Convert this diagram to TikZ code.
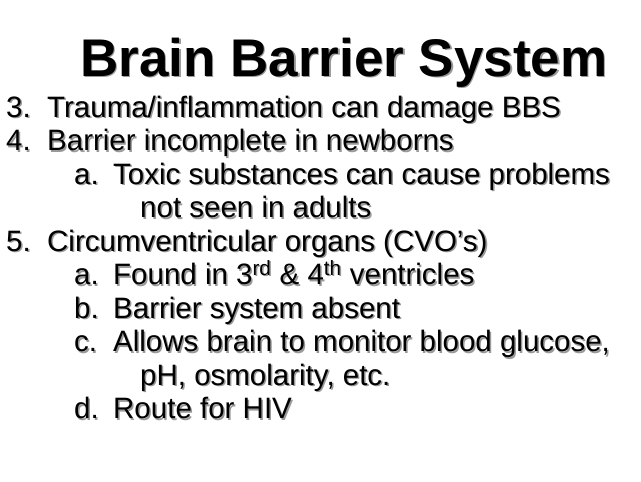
\documentclass[tikz,border=0pt]{standalone}
\usepackage{fontspec}
\setmainfont{Liberation Sans}
\tikzset{x=1pt,y=-1pt,
 body/.style={anchor=base west,inner sep=0,font=\fontsize{29.5}{33}\selectfont},
 title/.style={anchor=base west,inner sep=0,font=\fontsize{53}{58}\selectfont\bfseries}}
\newcommand{\shtext}[4]{%
 \node[#1,text=black!40] at (#2+1.5,#3+1.5) {#4};
 \node[#1,text=black] (n#2x#3) at (#2,#3) {#4};}
\begin{document}
\begin{tikzpicture}
\useasboundingbox (0,0) rectangle (641,482);
\shtext{title}{80}{76}{Brain Barrier System}
\shtext{body}{6}{117}{3.}
\shtext{body}{47}{117}{Trauma/inflammation can damage BBS}
\shtext{body}{6}{150.5}{4.}
\shtext{body}{47}{150.5}{Barrier incomplete in newborns}
\shtext{body}{74}{184}{a.}
\shtext{body}{113}{184}{Toxic substances can cause problems}
\shtext{body}{140}{217.5}{not seen in adults}
\shtext{body}{6}{251}{5.}
\shtext{body}{47}{251}{Circumventricular organs (CVO’s)}
\shtext{body}{74}{284.5}{a.}
\shtext{body}{113}{284.5}{Found in 3\textsuperscript{rd} \& 4\textsuperscript{th} ventricles}
\shtext{body}{74}{318}{b.}
\shtext{body}{113}{318}{Barrier system absent}
\shtext{body}{74}{351.5}{c.}
\shtext{body}{113}{351.5}{Allows brain to monitor blood glucose,}
\shtext{body}{140}{385}{pH, osmolarity, etc.}
\shtext{body}{74}{418.5}{d.}
\shtext{body}{113}{418.5}{Route for HIV}
\end{tikzpicture}
\end{document}
